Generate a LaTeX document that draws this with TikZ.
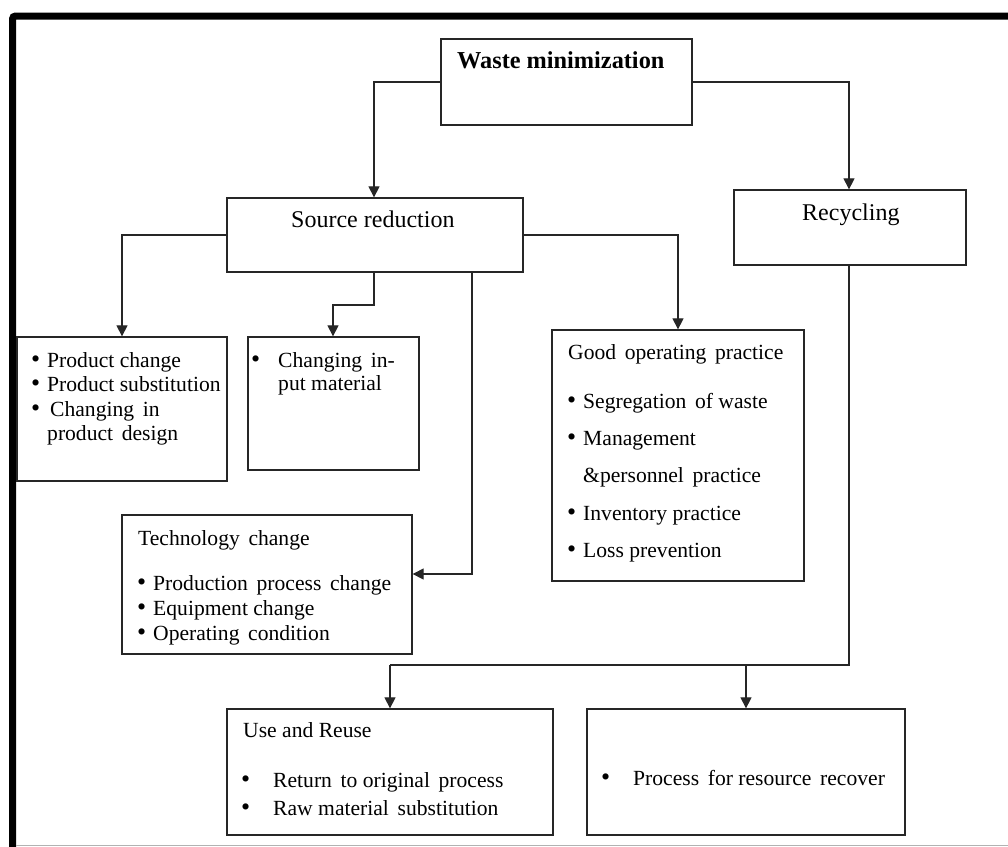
\documentclass[tikz,border=0pt]{standalone}
\usepackage{fontspec}
\setmainfont{Liberation Serif}
\usetikzlibrary{arrows.meta}
\tikzset{
  box/.style={draw=black!85, line width=1.3pt, rectangle, inner sep=0pt},
  txt/.style={anchor=base west, inner sep=0pt, font=\fontsize{21.6}{25}\selectfont},
  head/.style={anchor=base west, inner sep=0pt, font=\fontsize{24}{28}\selectfont},
  conn/.style={draw=black!85, line width=1.2pt},
  arr/.style={conn, -{Triangle[width=11pt,length=11pt]}},
}
\newcommand{\mkbox}[5]{\node[box, minimum width={#4-#2}, minimum height={#5-#3}] (#1) at ({(#2+#4)/2},{(#3+#5)/2}) {};}
\newcommand{\bul}{\scalebox{1.2}{\textbullet}}
\newcommand{\wsp}{\hspace{0.4em}}
\begin{document}
\begin{tikzpicture}[x=1pt,y=-1pt]
\useasboundingbox (0,0) rectangle (1008,846);
% frame
\draw[line width=7pt, rounded corners=3pt] (12.5,860) -- (12.5,16) -- (1020,16);
\draw[black!30, line width=1.5pt] (16,845.5) -- (1008,845.5);

% boxes
\mkbox{wm}{441}{39}{692}{125}
\mkbox{sr}{227}{198}{523}{272}
\mkbox{rc}{734}{190}{966}{265}
\mkbox{pa}{17}{337}{227}{481}
\mkbox{pb}{248}{337}{419}{470}
\mkbox{gop}{552}{330}{804}{581}
\mkbox{tc}{122}{515}{412}{654}
\mkbox{ur}{227}{709}{553}{835}
\mkbox{pr}{587}{709}{905}{835}

% titles
\node[head, font=\fontsize{24.3}{28}\selectfont\bfseries] (twm) at (457,68) {Waste minimization};
\node[head] (tsr) at (291,227) {Source reduction};
\node[head] (trc) at (802,220) {Recycling};

% box A
\node[txt] (a1b) at (31,367) {\bul};
\node[txt] (a1) at (47,367) {Product change};
\node[txt] (a2b) at (31,391.5) {\bul};
\node[txt] (a2) at (47,391.5) {Product substitution};
\node[txt] (a3b) at (31,416) {\bul};
\node[txt] (a3) at (50,416) {Changing\wsp in};
\node[txt] (a4) at (47,440.5) {product\wsp design};

% box B
\node[txt] (b1b) at (251,367) {\bul};
\node[txt] (b1) at (278,367) {Changing\wsp in-};
\node[txt] (b2) at (278,390) {put material};

% GOP
\node[txt] (g0) at (568,359) {Good\wsp operating\wsp practice};
\node[txt] (g1b) at (567,408) {\bul};
\node[txt] (g1) at (583,408) {Segregation\wsp of waste};
\node[txt] (g2b) at (567,445) {\bul};
\node[txt] (g2) at (583,445) {Management};
\node[txt] (g3) at (583,482) {\&personnel\wsp practice};
\node[txt] (g4b) at (567,520) {\bul};
\node[txt] (g4) at (583,520) {Inventory practice};
\node[txt] (g5b) at (567,557) {\bul};
\node[txt] (g5) at (583,557) {Loss prevention};

% Tech
\node[txt] (t0) at (138,545) {Technology\wsp change};
\node[txt] (t1b) at (137,590) {\bul};
\node[txt] (t1) at (153,590) {Production\wsp process\wsp change};
\node[txt] (t2b) at (137,615) {\bul};
\node[txt] (t2) at (153,615) {Equipment change};
\node[txt] (t3b) at (137,640) {\bul};
\node[txt] (t3) at (153,640) {Operating\wsp condition};

% Use and reuse
\node[txt] (u0) at (243,737) {Use and Reuse};
\node[txt] (u1b) at (241,787) {\bul};
\node[txt] (u1) at (273,787) {Return\wsp to original\wsp process};
\node[txt] (u2b) at (241,815) {\bul};
\node[txt] (u2) at (273,815) {Raw material\wsp substitution};

% Process
\node[txt] (p1b) at (601,785) {\bul};
\node[txt] (p1) at (633,785) {Process\wsp for resource\wsp recover};

% connectors
\coordinate (c1) at (374,82);
\coordinate (c2) at (849,82);
\draw[arr] (wm.west |- c1) -| (sr.north -| c1);
\draw[arr] (wm.east |- c2) -| (rc.north -| c2);

\coordinate (c3) at (122,235);
\draw[arr] (sr.west |- c3) -| (pa.north -| c3);
\coordinate (c4) at (678,235);
\draw[arr] (sr.east |- c4) -| (gop.north -| c4);
\coordinate (c5a) at (374,305);
\coordinate (c5b) at (333,305);
\draw[arr] (sr.south -| c5a) -- (c5a) -- (c5b) -- (pb.north -| c5b);
\coordinate (c6) at (472,574);
\draw[arr] (sr.south -| c6) |- (tc.east |- c6);

\coordinate (c7) at (849,665);
\coordinate (c8) at (390,665);
\coordinate (c9) at (746,665);
\draw[conn] (rc.south -| c7) -- (c7) -- (c8);
\draw[arr] (c8) -- (ur.north -| c8);
\draw[arr] (c9) -- (pr.north -| c9);
\end{tikzpicture}
\end{document}
